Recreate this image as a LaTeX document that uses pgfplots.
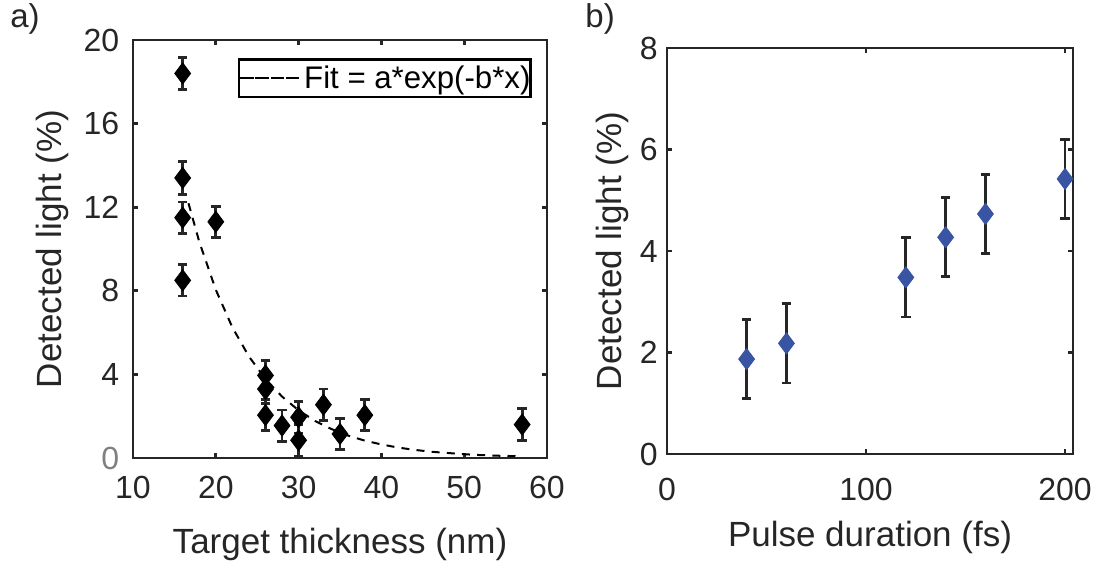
\documentclass[border=0pt]{standalone}
\usepackage{fontspec}
\setmainfont{Liberation Sans}
\usepackage{pgfplots}
\usepackage{pgfplotstable}
\pgfplotsset{compat=1.18}
\definecolor{axgray}{RGB}{38,38,38}
\definecolor{mblue}{RGB}{58,84,164}

\pgfplotstableread{
x y e
16 18.4 0.78
16 13.4 0.78
16 11.5 0.75
16 8.5 0.75
20 11.3 0.75
26 3.95 0.7
26 3.3 0.7
26 2.05 0.75
28 1.55 0.75
30 1.95 0.75
30 0.85 0.75
33 2.55 0.75
35 1.15 0.75
38 2.05 0.75
57 1.6 0.75
}\dataA

\pgfplotstableread{
x y
16.7 12.19
18 10.35
20 8.05
22 6.25
24 4.86
26 3.78
28 2.94
30 2.28
32 1.77
34 1.38
36 1.07
38 0.83
40 0.65
42 0.50
44 0.39
46 0.30
48 0.24
50 0.18
52 0.14
54 0.11
56 0.09
57 0.08
}\fitA

\pgfplotstableread{
x y e
40 1.87 0.78
60 2.18 0.78
120 3.48 0.78
140 4.27 0.78
160 4.73 0.78
200 5.42 0.78
}\dataB

\begin{document}
\begin{tikzpicture}
\useasboundingbox (0,0) rectangle (553pt,-280.5pt);
\pgfplotsset{
  myax/.style={
    scale only axis,
    anchor=south west,
    font=\fontsize{16}{19}\selectfont,
    axis line style={line width=1.4pt, color=axgray},
    every tick/.style={line width=1.4pt, color=axgray},
    major tick length=2.6pt,
    tick align=inside,
    tick pos=both,
    /pgf/number format/assume math mode=true,
    ticklabel style={text=axgray, font=\fontsize{16}{19}\selectfont},
    every axis x label/.style={at={(rel axis cs:0.5,0)}, anchor=base, inner sep=0pt, text=axgray, font=\fontsize{17.5}{21}\selectfont},
    every axis y label/.style={at={(rel axis cs:0,0.5)}, rotate=90, anchor=base, inner sep=0pt, text=axgray, font=\fontsize{17.5}{21}\selectfont},
  },
  ebars/.style={error bars/.cd, y dir=both, y explicit,
    error bar style={line width=1.4pt, axgray},
    error mark options={rotate=90, mark size=2.4pt, line width=1.4pt, axgray}},
}
\begin{axis}[myax,
  at={(66.5pt,-229pt)}, width=207pt, height=209pt,
  xmin=10, xmax=60, ymin=0, ymax=20,
  xtick={10,20,30,40,50,60},
  ytick={0,4,8,12,16,20},
  yticklabels={\textcolor{gray}{0},4,8,12,16,20},
  xticklabel style={anchor=base, inner sep=0pt, yshift=-20pt},
  yticklabel style={anchor=east, inner sep=0pt, xshift=-6.7pt},
  xlabel={Target thickness (nm)},
  ylabel={Detected light (\%)},
  xlabel style={yshift=-47.5pt},
  ylabel style={yshift=35.7pt},
  legend style={at={(rel axis cs:0.963,0.956)}, anchor=north east,
    draw=black, line width=1.2pt, inner xsep=0pt, inner ysep=3pt,
    font=\fontsize{15.6}{18}\selectfont, cells={anchor=west},
    nodes={inner sep=0pt},
    /tikz/every even column/.append style={column sep=0pt}},
  legend image code/.code={\path (0pt,0pt) -- (30pt,0pt);
    \draw[black, line width=0.9pt, solid] (3.3pt,0pt) -- (6.8pt,0pt);
    \draw[black, line width=0.9pt, solid] (10.8pt,0pt) -- (14.3pt,0pt);
    \draw[black, line width=0.9pt, solid] (18.3pt,0pt) -- (21.8pt,0pt);
    \draw[black, line width=0.9pt, solid] (25.8pt,0pt) -- (29.3pt,0pt);},
]
\addplot[black, line width=1pt, dash pattern=on 4pt off 3.6pt] table[x=x,y=y] {\fitA};
\addlegendentry{\hspace{1.5pt}Fit = a*exp(-b*x)\hspace{5.8pt}}
\addplot[draw=none, mark=none, forget plot, ebars] table[x=x, y=y, y error=e] {\dataA};
\addplot[only marks, mark=diamond*, mark size=5.3pt, black, forget plot]
  table[x=x, y=y] {\dataA};
\end{axis}

\begin{axis}[myax,
  at={(333.5pt,-227pt)}, width=203pt, height=203pt,
  xmin=0, xmax=204, ymin=0, ymax=8,
  xtick={0,100,200},
  ytick={0,2,4,6,8},
  xticklabel style={anchor=base, inner sep=0pt, yshift=-23pt},
  yticklabel style={anchor=east, inner sep=0pt, xshift=-4.5pt},
  xlabel={Pulse duration (fs)},
  ylabel={Detected light (\%)},
  xlabel style={yshift=-46pt},
  ylabel style={yshift=22.7pt},
]
\addplot[draw=none, mark=none, forget plot, ebars] table[x=x, y=y, y error=e] {\dataB};
\addplot[only marks, mark=diamond*, mark size=5.3pt, color=mblue, mark options={draw=mblue, fill=mblue}]
  table[x=x, y=y] {\dataB};
\end{axis}

\node[anchor=base west, inner sep=0pt, font=\fontsize{16.5}{19}\selectfont, text=axgray] at (5pt,-14pt) {a)};
\node[anchor=base west, inner sep=0pt, font=\fontsize{16.5}{19}\selectfont, text=axgray] at (292.5pt,-14pt) {b)};
\end{tikzpicture}
\end{document}
